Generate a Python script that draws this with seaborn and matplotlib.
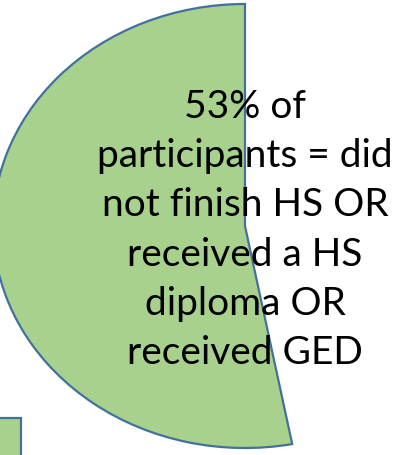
import matplotlib
matplotlib.use("Agg")
import matplotlib.pyplot as plt
from matplotlib.patches import Rectangle
import seaborn as sns

# data
slice_names = ["Did not finish HS / HS diploma / GED", "Other"]
shares = [53, 47]
slice_colors = ["#A9D18E", "none"]
edge_color = "#41719C"
label_text = "53% of\nparticipants = did\nnot finish HS OR\nreceived a HS\ndiploma OR\nreceived GED"

sns.set_style("white")
plt.rcParams["font.family"] = ["Lato", "DejaVu Sans"]

W, H = 400, 455
fig = plt.figure(figsize=(W / 100, H / 100), dpi=100)

# pie is cropped by the slide: centre ~(245, 226) px, radius ~252 x 222 px
cx, cy, rx, ry = 245, 226, 252, 222
ax = fig.add_axes([(cx - rx) / W, (H - cy - ry) / H, 2 * rx / W, 2 * ry / H])
wedges, _ = ax.pie(shares, colors=slice_colors, startangle=90, counterclock=True,
                   wedgeprops=dict(linewidth=1.6, edgecolor=edge_color))
wedges[1].set_facecolor("none")
wedges[1].set_edgecolor("none")
ax.set_aspect("auto")
ax.set_xlim(-1, 1)
ax.set_ylim(-1, 1)
ax.axis("off")

ax.text(0, (cy - 230) / ry, label_text, ha="center", va="center",
        fontsize=28, fontweight="normal", linespacing=1.46, color="black")

# corner of the neighbouring shape, cut off at the bottom-left
fig.add_artist(Rectangle((-10 / W, -10 / H), 31 / W, (455 - 418 + 10) / H,
                         transform=fig.transFigure, facecolor=slice_colors[0],
                         edgecolor=edge_color, linewidth=1.6))

fig.savefig("out.png", dpi=100)
